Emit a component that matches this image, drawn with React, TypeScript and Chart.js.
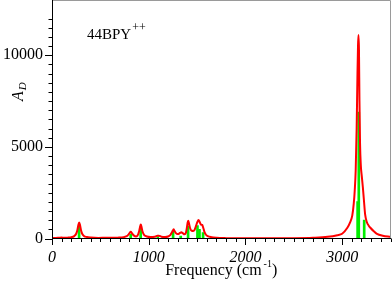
import React, { useEffect, useRef } from 'react';
import { Chart, registerables } from 'chart.js';

Chart.register(...registerables);

// Broadened spectrum (red curve)
const spectrumFreq = [
  0, 40, 80, 100, 120, 160, 200, 230, 250, 262, 272, 281, 290, 300, 312, 330, 360, 400, 480, 560,
  600, 680, 740, 780, 800, 814, 828, 845, 870, 885, 900, 910, 918, 926, 936, 952, 980, 1020, 1060, 1090,
  1105, 1130, 1170, 1200, 1225, 1245, 1258, 1270, 1290, 1305, 1322, 1338, 1352, 1370, 1385, 1395, 1402, 1408, 1416, 1428,
  1445, 1460, 1475, 1490, 1503, 1515, 1527, 1540, 1553, 1563, 1575, 1590, 1610, 1650, 1700, 1800, 2000, 2300, 2500, 2700,
  2850, 2950, 3000, 3054, 3080, 3105, 3120, 3130, 3140, 3150, 3158, 3164, 3169, 3174, 3179, 3185, 3193, 3203, 3214, 3225,
  3238, 3255, 3275, 3292, 3330, 3360, 3420, 3500,
];
const spectrumIntensity = [
  20, 25, 45, 50, 35, 45, 70, 130, 260, 450, 720, 875, 720, 450, 260, 140, 80, 50, 30, 45,
  35, 45, 75, 150, 280, 370, 280, 170, 110, 160, 380, 620, 760, 620, 380, 200, 110, 80, 90, 150,
  150, 100, 80, 110, 200, 380, 505, 380, 250, 240, 300, 335, 290, 230, 320, 600, 850, 975, 830, 560,
  420, 410, 480, 700, 900, 1010, 900, 760, 740, 600, 380, 220, 130, 70, 40, 20, 10, 10, 15, 40,
  90, 180, 260, 585, 850, 1260, 1900, 2600, 3700, 6000, 8800, 10500, 11100, 10300, 7500, 5200, 4000, 3400, 2800, 2100,
  1300, 900, 700, 585, 380, 250, 150, 90,
];

// Stick spectrum (green bars)
const stickFreq = [280, 814, 917, 1043, 1094, 1252, 1331, 1407, 1504, 1525, 1562, 3160, 3172, 3228];
const stickIntensity = [680, 230, 640, 50, 110, 430, 130, 680, 700, 500, 320, 2020, 6900, 1010];

// Axes
const xMin = 0;
const xMax = 3500;
const yMin = 0;
const yMax = 12000;
const xMajorTicks = [0, 1000, 2000, 3000];
const yMajorTicks = [0, 5000, 10000];
const xMinorStep = 100;
const yMinorStep = 500;

// Texts
const xTitleMain = 'Frequency (cm';
const xTitleSup = '-1';
const xTitleEnd = ')';
const yTitleMain = 'A';
const yTitleSub = 'D';
const annotationMain = '44BPY';
const annotationSup = '++';

const SERIF = '"Liberation Serif", "Times New Roman", Times, serif';

const decorPlugin = {
  id: 'decor',
  afterDraw(chart: any) {
    const { ctx, chartArea: a } = chart;
    const xs = chart.scales.x;
    const ys = chart.scales.y;
    ctx.save();

    // top and right frame
    ctx.strokeStyle = '#9a9a9a';
    ctx.lineWidth = 1;
    ctx.beginPath();
    ctx.moveTo(a.left, 0.5);
    ctx.lineTo(390.5, 0.5);
    ctx.lineTo(390.5, 238.5);
    ctx.stroke();

    // axes
    ctx.strokeStyle = '#000';
    ctx.beginPath();
    ctx.moveTo(52.5, 0);
    ctx.lineTo(52.5, 239);
    ctx.moveTo(52, 238.5);
    ctx.lineTo(391, 238.5);
    ctx.stroke();

    // y ticks
    ctx.beginPath();
    for (let v = yMin; v <= yMax; v += yMinorStep) {
      const py = Math.round(ys.getPixelForValue(v)) + 0.5;
      const major = v % 5000 === 0;
      ctx.moveTo(major ? 45 : 48.5, py);
      ctx.lineTo(52.5, py);
    }
    // x ticks
    for (let v = xMin; v <= xMax; v += xMinorStep) {
      const px = Math.round(xs.getPixelForValue(v)) + 0.5;
      const major = v % 1000 === 0;
      ctx.moveTo(px, 238.5);
      ctx.lineTo(px, major ? 245 : 242);
    }
    ctx.stroke();

    ctx.fillStyle = '#000';
    ctx.textBaseline = 'alphabetic';
    ctx.textAlign = 'left';

    // x title
    ctx.font = `16px ${SERIF}`;
    const w1 = ctx.measureText(xTitleMain).width;
    ctx.font = `10px ${SERIF}`;
    const w2 = ctx.measureText(xTitleSup).width;
    ctx.font = `16px ${SERIF}`;
    const w3 = ctx.measureText(xTitleEnd).width;
    const total = w1 + 2 + w2 + w3;
    let tx = (a.left + a.right) / 2 - total / 2;
    const tyBase = 275;
    ctx.fillText(xTitleMain, tx, tyBase);
    tx += w1 + 2;
    ctx.font = `10px ${SERIF}`;
    ctx.fillText(xTitleSup, tx, tyBase - 8);
    tx += w2;
    ctx.font = `16px ${SERIF}`;
    ctx.fillText(xTitleEnd, tx, tyBase);

    // y title (rotated)
    ctx.save();
    ctx.translate(23, 101);
    ctx.rotate(-Math.PI / 2);
    ctx.font = `italic 16px ${SERIF}`;
    ctx.fillText(yTitleMain, 0, 0);
    const wa = ctx.measureText(yTitleMain).width;
    ctx.font = `italic 11px ${SERIF}`;
    ctx.fillText(yTitleSub, wa + 1, 3);
    ctx.restore();

    // annotation
    ctx.font = `15px ${SERIF}`;
    ctx.fillText(annotationMain, 87, 38.5);
    const wm = ctx.measureText(annotationMain).width;
    ctx.font = `12px ${SERIF}`;
    ctx.fillText(annotationSup, 87 + wm + 1, 31);

    ctx.restore();
  },
};

export default function App() {
  const canvasRef = useRef<HTMLCanvasElement | null>(null);

  useEffect(() => {
    const canvas = canvasRef.current;
    if (!canvas) return;
    const lineData = spectrumFreq.map((f, i) => ({ x: f, y: spectrumIntensity[i] }));
    const stickData = stickFreq.map((f, i) => ({ x: f, y: stickIntensity[i] }));

    const chart = new Chart(canvas, {
      data: {
        datasets: [
          {
            type: 'bar',
            data: stickData,
            backgroundColor: '#00ee00',
            borderWidth: 0,
            barThickness: 2,
            grouped: false,
            order: 2,
          } as any,
          {
            type: 'line',
            data: lineData,
            borderColor: '#ff0000',
            borderWidth: 2,
            pointRadius: 0,
            fill: false,
            cubicInterpolationMode: 'monotone',
            order: 1,
          } as any,
        ],
      },
      options: {
        animation: false,
        responsive: false,
        devicePixelRatio: 1,
        layout: { padding: { left: 0, right: 1.5, top: 0.5, bottom: 0 } },
        plugins: {
          legend: { display: false },
          tooltip: { enabled: false },
          title: { display: false },
        },
        scales: {
          x: {
            type: 'linear',
            min: xMin,
            max: xMax,
            offset: false,
            grid: { display: false, drawTicks: false },
            border: { display: false },
            afterBuildTicks: (s: any) => {
              s.ticks = xMajorTicks.map((v) => ({ value: v }));
            },
            afterFit: (s: any) => {
              s.height = 51.5;
            },
            ticks: {
              autoSkip: false,
              maxRotation: 0,
              padding: 10,
              color: '#000',
              font: { family: SERIF, size: 16, style: 'italic' },
              callback: (v: any) => String(v),
            },
          },
          y: {
            type: 'linear',
            min: yMin,
            max: yMax,
            grid: { display: false, drawTicks: false },
            border: { display: false },
            afterBuildTicks: (s: any) => {
              s.ticks = yMajorTicks.map((v) => ({ value: v }));
            },
            afterFit: (s: any) => {
              s.width = 52;
            },
            ticks: {
              padding: 9,
              color: '#000',
              font: { family: SERIF, size: 16 },
              callback: (v: any) => String(v),
            },
          },
        },
      },
      plugins: [decorPlugin],
    } as any);

    return () => chart.destroy();
  }, []);

  return (
    <div style={{ position: 'fixed', left: 0, top: 0, width: 392, height: 290, background: '#fff' }}>
      <canvas ref={canvasRef} width={392} height={290} style={{ display: 'block', width: 392, height: 290 }} />
    </div>
  );
}
